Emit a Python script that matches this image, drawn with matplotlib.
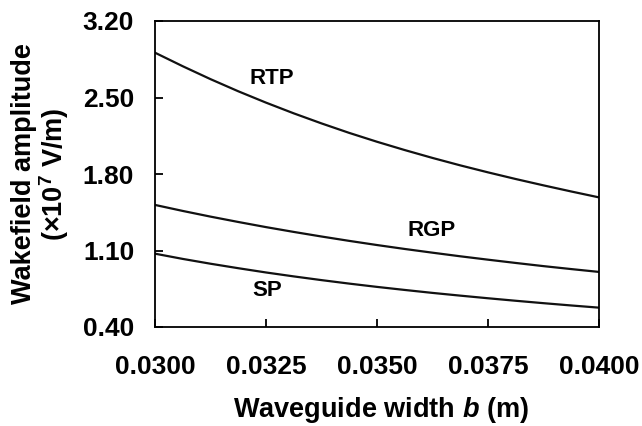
import matplotlib
matplotlib.use("Agg")
import matplotlib.pyplot as plt

# waveguide width b (m), read every 0.000625
width_b = [0.03, 0.030625, 0.03125, 0.031875, 0.0325, 0.033125, 0.03375, 0.034375, 0.035,
           0.035625, 0.03625, 0.036875, 0.0375, 0.038125, 0.03875, 0.039375, 0.04]

# wakefield amplitude (x1e7 V/m)
rtp = [2.910, 2.786, 2.668, 2.557, 2.453, 2.355, 2.263, 2.176, 2.095,
       2.019, 1.947, 1.879, 1.815, 1.754, 1.696, 1.640, 1.586]
rgp = [1.517, 1.462, 1.410, 1.361, 1.314, 1.270, 1.228, 1.188, 1.150,
       1.114, 1.080, 1.047, 1.016, 0.986, 0.957, 0.930, 0.904]
sp = [1.071, 1.023, 0.979, 0.938, 0.899, 0.863, 0.829, 0.797, 0.767,
      0.739, 0.712, 0.687, 0.663, 0.640, 0.618, 0.597, 0.577]

x_ticks = [0.03, 0.0325, 0.035, 0.0375, 0.04]
y_ticks = [0.40, 1.10, 1.80, 2.50, 3.20]

plt.rcParams['font.family'] = ['Liberation Sans', 'DejaVu Sans']
plt.rcParams['font.weight'] = 'bold'
plt.rcParams['mathtext.fontset'] = 'custom'
plt.rcParams['mathtext.rm'] = 'Liberation Sans:bold'
plt.rcParams['mathtext.it'] = 'Liberation Sans:bold:italic'
plt.rcParams['mathtext.bf'] = 'Liberation Sans:bold'

fig = plt.figure(figsize=(6.42, 4.26), dpi=100)
ax = fig.add_axes([155 / 642, 1 - 327 / 426, 444 / 642, 306 / 426])

for series in (rtp, rgp, sp):
    ax.plot(width_b, series, color='#111111', linewidth=1.6)

ax.text(0.03263, 2.675, 'RTP', fontsize=16, fontweight='bold', ha='center', va='center')
ax.text(0.03622, 1.285, 'RGP', fontsize=16, fontweight='bold', ha='center', va='center')
ax.text(0.03252, 0.730, 'SP', fontsize=16, fontweight='bold', ha='center', va='center')

ax.set_xlim(0.03, 0.04)
ax.set_ylim(0.40, 3.20)
ax.set_xticks(x_ticks)
ax.set_xticklabels([f'{v:.4f}' for v in x_ticks])
ax.set_yticks(y_ticks)
ax.set_yticklabels([f'{v:.2f}' for v in y_ticks])
ax.tick_params(axis='both', direction='in', length=6, width=1.3, labelsize=19)
ax.tick_params(axis='x', pad=20)
ax.tick_params(axis='y', pad=15)
for s in ax.spines.values():
    s.set_linewidth(1.3)

fig.text(41 / 642, 1 - 174 / 426, 'Wakefield amplitude\n(×10$^{7}$ V/m)', rotation=90,
         ha='center', va='center', multialignment='center', fontsize=19.5,
         fontweight='bold', linespacing=1.0)
fig.text(381 / 642, 1 - 410 / 426, 'Waveguide width $b$ (m)', ha='center', va='center',
         fontsize=19.5, fontweight='bold')

fig.savefig('out.png', dpi=100)
